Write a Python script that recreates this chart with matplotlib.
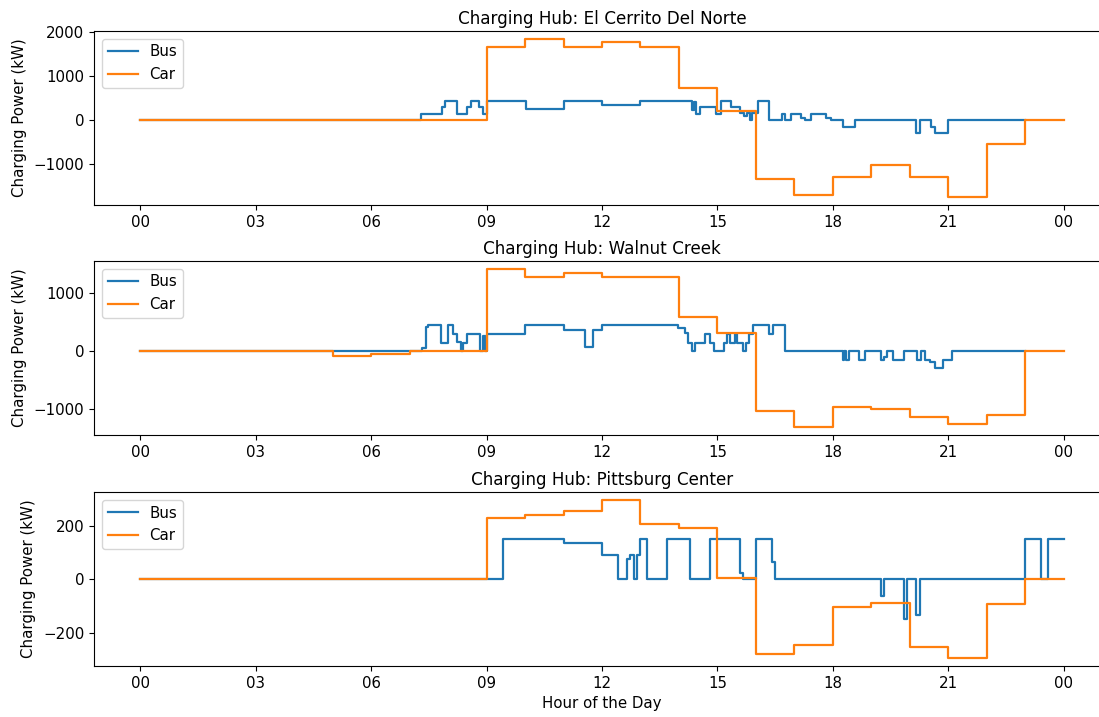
import numpy as np
import matplotlib
matplotlib.use('Agg')
import matplotlib.pyplot as plt

# hub names
hubs = ['El Cerrito Del Norte', 'Walnut Creek', 'Pittsburg Center']

# step breakpoints (hour, kW)
bus1_t = [0, 7.3, 7.83, 7.92, 8.24, 8.49, 8.59, 8.81, 8.92, 9.0, 10.02, 11.0, 12.0, 13.0,
          14.33, 14.39, 14.45, 14.55, 14.97, 15.1, 15.34, 15.58, 15.69, 15.77, 15.84, 15.9,
          16.06, 16.34, 16.67, 16.75, 16.92, 17.18, 17.27, 17.42, 17.83, 17.96, 18.25, 18.57,
          20.17, 20.26, 20.56, 20.66, 21.0, 23.0]
bus1_v = [0, 140, 290, 440, 150, 300, 440, 290, 140, 440, 265, 440, 340, 440,
          230, 415, 140, 300, 140, 440, 300, 165, 90, 165, 0, 165,
          440, 0, 150, 0, 150, 60, 0, 150, 60, 0, -150, 0,
          -300, 0, -150, -300, 0, 0]
car1_t = [0, 9, 10, 11, 12, 13, 14, 15, 16, 17, 18, 19, 20, 21, 22, 23, 24]
car1_v = [0, 1660, 1840, 1660, 1765, 1660, 720, 210, -1340, -1690, -1290, -1020, -1290,
          -1740, -530, 0, 0]

bus2_t = [0, 7.32, 7.43, 7.48, 7.81, 8.0, 8.14, 8.22, 8.33, 8.4, 8.5, 8.83, 8.92, 8.96,
          9.0, 10.0, 11.0, 11.56, 11.76, 12.0, 13.98, 14.16, 14.24, 14.33, 14.41, 14.67,
          14.8, 14.9, 15.16, 15.24, 15.32, 15.45, 15.5, 15.66, 15.74, 15.83, 15.92, 16.33,
          16.44, 16.76, 18.25, 18.3, 18.33, 18.42, 18.5, 18.67, 18.83, 19.24, 19.33, 19.4,
          19.57, 19.86, 20.18, 20.3, 20.4, 20.52, 20.65, 20.86, 21.1, 23.0]
bus2_v = [0, 45, 410, 440, 145, 440, 295, 150, 0, 145, 295, 0, 250, 0,
          295, 450, 365, 60, 365, 450, 395, 310, 145, 0, 145, 290,
          145, 0, 145, 290, 145, 290, 145, 0, 145, 290, 440, 295,
          440, 0, -150, 0, -150, 0, 0, -150, 0, -150, -100, 0,
          -150, 0, -150, 0, -150, -200, -300, -150, 0, 0]
car2_t = [0, 5, 6, 7, 9, 10, 11, 12, 14, 15, 16, 17, 18, 19, 20, 21, 22, 23, 24]
car2_v = [0, -90, -55, 0, 1420, 1280, 1350, 1280, 585, 310, -1045, -1320, -980, -1015,
          -1140, -1270, -1115, 0, 0]

bus3_t = [0, 9.43, 11.0, 12.0, 12.42, 12.66, 12.73, 12.83, 12.92, 13.0, 13.17, 13.69, 14.28,
          14.8, 15.58, 15.67, 16.0, 16.42, 16.5, 19.25, 19.33, 19.84, 19.93, 20.17, 20.26,
          22.98, 23.42, 23.58, 24.0]
bus3_v = [0, 150, 135, 90, 0, 78, 90, 0, 90, 150, 0, 150, 0,
          150, 24, 0, 150, 66, 0, -64, 0, -148, 0, -133, 0,
          150, 0, 150, 150]
car3_t = [0, 9, 10, 11, 12, 13, 14, 15, 16, 17, 18, 19, 20, 21, 22, 23, 24]
car3_v = [0, 232, 240, 255, 298, 209, 194, 4, -278, -245, -102, -89, -255, -295, -92, 0, 0]

hour_ticks = np.arange(0, 25, 3)
hour_labels = ['%02d' % (h % 24) for h in hour_ticks]

plt.rcParams['font.size'] = 10.8

fig = plt.figure(figsize=(10.99, 7.17), dpi=100)
tops = [31, 261, 492]
data = [(bus1_t, bus1_v, car1_t, car1_v),
        (bus2_t, bus2_v, car2_t, car2_v),
        (bus3_t, bus3_v, car3_t, car3_v)]

for i in range(3):
    top = tops[i]
    ax = fig.add_axes([94 / 1099, 1 - (top + 174) / 717, 1016 / 1099, 174 / 717])
    bt, bv, ct, cv = data[i]
    ax.step(bt, bv, where='post', color='#1f77b4', lw=1.6, label='Bus')
    ax.step(ct, cv, where='post', color='#ff7f0e', lw=1.6, label='Car')
    ax.set_title('Charging Hub: ' + hubs[i], fontsize=12.1, pad=5)
    ax.set_ylabel('Charging Power (kW)', labelpad=5)
    ax.set_xticks(hour_ticks)
    ax.set_xticklabels(hour_labels)
    ax.legend(loc='upper left')
    if i == 2:
        ax.set_xlabel('Hour of the Day')

fig.savefig('out.png', dpi=100)
